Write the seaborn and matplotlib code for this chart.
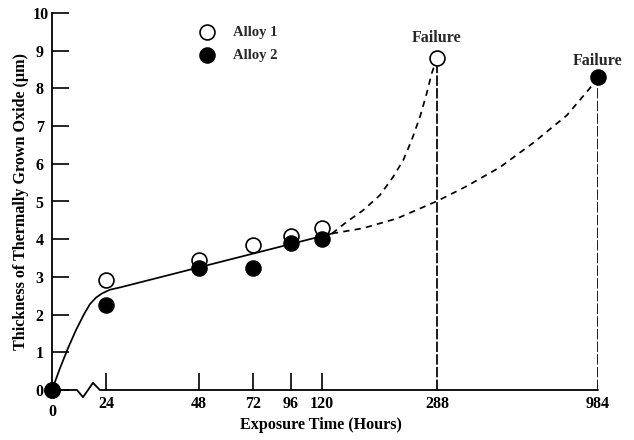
import numpy as np
import matplotlib
matplotlib.use("Agg")
import matplotlib.pyplot as plt
import seaborn as sns

# Exposure times shown on the (broken, non-linear) time axis
tick_hours = [0, 24, 48, 72, 96, 120, 288, 984]
tick_labels = ["0", "24", "48", "72", "96", "120", "288", "984"]

# Measured oxide thickness (µm)
alloy1_hours = [0, 24, 48, 72, 96, 120, 288]
alloy1_thick = [0.0, 2.92, 3.45, 3.85, 4.08, 4.30, 8.80]
alloy2_hours = [0, 24, 48, 72, 96, 120, 984]
alloy2_thick = [0.0, 2.25, 3.23, 3.23, 3.90, 4.00, 8.30]

# Common growth trend up to ~135 h
trend_hours = [0, 3.56, 7.11, 10.67, 14.22, 16.89, 19.56, 22.2, 25.0, 27.6, 134.6]
trend_thick = [0.0, 0.58, 1.11, 1.59, 2.01, 2.28, 2.45, 2.56, 2.66, 2.72, 4.15]

# Breakaway oxidation trends leading to failure
brk1_hours = [134.6, 156.1, 180.3, 204.7, 224.2, 238.8, 251.0, 263.2, 273.0, 280.3, 288]
brk1_thick = [4.15, 4.46, 4.77, 5.17, 5.66, 6.10, 6.63, 7.25, 7.87, 8.40, 8.80]
brk2_hours = [134.6, 179.9, 229.6, 288, 417.7, 560.4, 703, 850, 949.5, 984]
brk2_thick = [4.15, 4.29, 4.55, 5.01, 5.41, 5.91, 6.55, 7.29, 8.01, 8.30]

failure_hours = [288, 984]
failure_thick = [8.80, 8.30]

# Relative spacing of the time axis segments
axis_pos = [0, 54, 147, 201, 239, 270, 385, 546]


def fwd(h):
    return np.interp(h, tick_hours, axis_pos)


def inv(p):
    return np.interp(p, axis_pos, tick_hours)


sns.set_theme(style="white")
plt.rcParams["font.family"] = ["Liberation Serif", "DejaVu Serif"]
plt.rcParams["font.weight"] = "bold"

fig = plt.figure(figsize=(6.34, 4.40), dpi=100)
ax = fig.add_axes([52 / 634, 50 / 440, 546 / 634, 377 / 440])
ax.set_xscale("function", functions=(fwd, inv))
ax.set_xlim(0, 984)
ax.set_ylim(0, 10)

lw = 1.25
sns.lineplot(x=trend_hours, y=trend_thick, sort=False, estimator=None,
             color="black", lw=lw, ax=ax)
sns.lineplot(x=brk1_hours, y=brk1_thick, sort=False, estimator=None,
             color="black", lw=lw, linestyle=(0, (3.6, 3.0)), ax=ax)
sns.lineplot(x=brk2_hours, y=brk2_thick, sort=False, estimator=None,
             color="black", lw=lw, linestyle=(0, (3.6, 3.0)), ax=ax)

# Drop lines at failure
ax.vlines(failure_hours, 0, failure_thick, colors="black", lw=lw,
          linestyles=[(0, (6.0, 1.3))])

sns.scatterplot(x=alloy1_hours, y=alloy1_thick, marker="o", s=115,
                color="white", edgecolor="black", linewidth=1.2,
                label="Alloy 1", clip_on=False, zorder=5, ax=ax)
sns.scatterplot(x=alloy2_hours, y=alloy2_thick, marker="o", s=115,
                color="black", edgecolor="black", linewidth=1.2,
                label="Alloy 2", clip_on=False, zorder=6, ax=ax)

for h, t, dy in zip(failure_hours, failure_thick, [14.5, 11.5]):
    ax.annotate("Failure", (h, t), xytext=(0, dy), textcoords="offset points",
                ha="center", va="center", fontsize=11.5, fontweight="bold")

leg = ax.legend(loc="upper left", bbox_to_anchor=(0.271, 0.966), frameon=False,
                borderpad=0, borderaxespad=0, handlelength=1.0,
                handletextpad=1.25, labelspacing=0.65,
                prop={"family": "Liberation Serif", "weight": "bold", "size": 10.5})

# Axes frame: left spine plus a bottom line with a break symbol
for side in ["top", "right", "bottom"]:
    ax.spines[side].set_visible(False)
ax.spines["left"].set_color("black")
ax.spines["left"].set_linewidth(1.3)
ax.plot([0, 11.1, 13.8, 18.2, 21.3, 984], [0, 0, -0.19, 0.19, 0, 0],
        color="black", lw=1.3, clip_on=False, zorder=4)

ax.set_yticks(range(0, 11))
ax.set_yticklabels([str(v) for v in range(0, 11)])
ax.tick_params(axis="y", direction="in", length=12, width=1.2, color="black",
               pad=6, labelsize=11.5, left=True)
ax.set_xticks(tick_hours)
ax.set_xticklabels(tick_labels)
ax.tick_params(axis="x", direction="in", length=12, width=1.2, color="black",
               pad=4, labelsize=11.5, bottom=True)
xt = ax.xaxis.get_major_ticks()
for i in (0, 6, 7):
    xt[i].tick1line.set_visible(False)
xt[0].set_pad(10)
ax.yaxis.get_major_ticks()[10].set_pad(2)

for lab in ax.get_xticklabels() + ax.get_yticklabels():
    lab.set_fontweight("bold")
    lab.set_color("black")

ax.set_xlabel("Exposure Time (Hours)", fontsize=11.6, fontweight="bold", color="black")
ax.set_ylabel("Thickness of Thermally Grown Oxide (\u03bcm)", fontsize=11.6,
              fontweight="bold", color="black")
ax.xaxis.set_label_coords(0.493, -0.072)
ax.yaxis.set_label_coords(-0.043, 0.5)

fig.savefig("out.png", dpi=100, facecolor="white")
